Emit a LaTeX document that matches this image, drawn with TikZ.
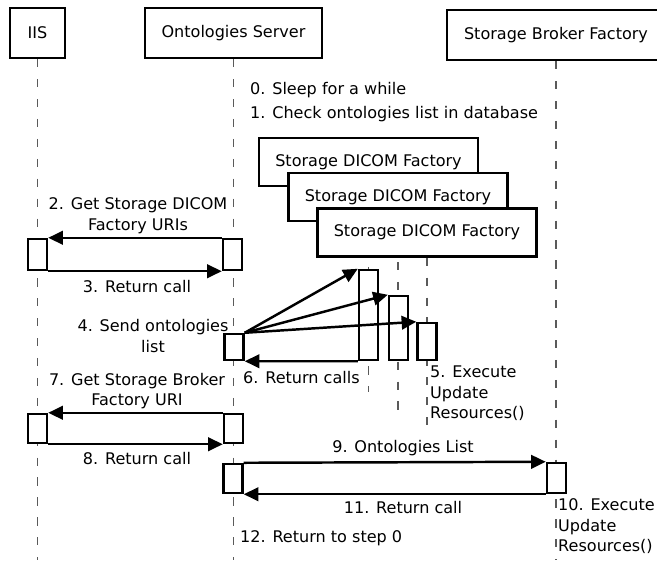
\documentclass[tikz,border=0pt]{standalone}
\usepackage{fontspec}
\setmainfont{DejaVu Sans}
\usetikzlibrary{
	positioning,
	arrows.meta
}
\definecolor{LifeGray}{RGB}{90,90,90}

\tikzset{
	actor/.style={draw, line width=2.1pt, fill=white, minimum height=1.5cm, inner sep=0pt},
	dicom/.style={draw, line width=2.1pt, fill=white, minimum width=6.57cm, minimum height=1.44cm, inner sep=0pt},
	lifeline/.style={draw=LifeGray, line width=1.4pt, dash pattern=on 7pt off 10pt},
	act/.style={draw, line width=2.1pt, fill=white, minimum width=0.57cm, inner sep=0pt},
	msg/.style={line width=2.1pt, -{Triangle[length=12.5pt,width=11.5pt]}},
	lbl/.style={inner sep=0pt, align=center},
	note/.style={inner sep=0pt, align=left, anchor=west}
}

\begin{document}
\begin{tikzpicture}[x=0.03cm, y=-0.03cm,
	every node/.style={font=\fontsize{13.7}{17.5}\selectfont}]

	\clip (0,0) rectangle (657,560);

	% participants
	\node[actor, minimum width=1.65cm] (IIS) at (37.5,33) {IIS};
	\node[actor, minimum width=5.31cm] (Server) at (233.5,33) {Ontologies Server};
	\node[actor, minimum width=6.54cm] (Broker) at (556,35) {Storage Broker Factory};

	\coordinate (IISend) at (37.5,560);
	\coordinate (Serverend) at (233.5,560);
	\coordinate (Brokerend) at (556,560);

	\draw[lifeline] (IIS.south) -- (IISend);
	\draw[lifeline] (Server.south) -- (Serverend);
	\draw[lifeline] (Broker.south) -- (Brokerend);

	% storage DICOM factories
	\node[dicom] (Dicom1) at (368.5,162) {Storage DICOM Factory};
	\coordinate (Dicom1end) at (368.5,392);
	\draw[lifeline] (Dicom1.south) -- (Dicom1end);
	\node[dicom] (Dicom2) at (398,197) {Storage DICOM Factory};
	\coordinate (Dicom2end) at (398,412);
	\draw[lifeline] (Dicom2.south) -- (Dicom2end);
	\node[dicom] (Dicom3) at (427,232.5) {Storage DICOM Factory};
	\coordinate (Dicom3end) at (427,428);
	\draw[lifeline] (Dicom3.south) -- (Dicom3end);

	% notes
	\node[note] (step0) at (250,90) {0. Sleep for a while};
	\node[note] (step1) at (250,114) {1. Check ontologies list in database};

	% steps 2 and 3
	\node[act, minimum height=0.93cm] (actIIS1) at (37.5,254.5) {};
	\node[act, minimum height=0.93cm] (actSrv1) at (232.5,254.5) {};
	\draw[msg] (actSrv1.north west) -- (actIIS1.north east);
	\draw[msg] (actIIS1.south east) -- (actSrv1.south west);
	\node[lbl] (lab2) at (138,215.5) {2. Get Storage DICOM\\Factory URIs};
	\node[lbl] (lab3) at (137,287) {3. Return call};

	% steps 4 to 6
	\node[act, minimum height=0.78cm] (actSrv2) at (234,347) {};
	\node[act, minimum height=2.7cm] (actDic1) at (368.5,315) {};
	\node[act, minimum height=1.92cm] (actDic2) at (398.5,328) {};
	\node[act, minimum height=1.11cm] (actDic3) at (427,341.5) {};
	\draw[msg] (actSrv2.north east) -- (actDic1.north west);
	\draw[msg] (actSrv2.north east) -- (actDic2.north west);
	\draw[msg] (actSrv2.north east) -- (actDic3.north west);
	\draw[msg] (actDic1.south west) -- (actSrv2.south east);
	\node[lbl] (lab4) at (153,336) {4. Send ontologies\\list};
	\node[note] (lab5) at (430,393.5) {5. Execute\\Update\\Resources()};
	\node[note] (lab6) at (243,378) {6. Return calls};

	% steps 7 and 8
	\node[act, minimum height=0.87cm] (actIIS2) at (37.5,428.5) {};
	\node[act, minimum height=0.87cm] (actSrv3) at (233.5,428.5) {};
	\draw[msg] (actSrv3.north west) -- (actIIS2.north east);
	\draw[msg] (actIIS2.south east) -- (actSrv3.south west);
	\node[lbl] (lab7) at (137,391) {7. Get Storage Broker\\Factory URI};
	\node[lbl] (lab8) at (137,459) {8. Return call};

	% steps 9 to 12
	\node[act, minimum height=0.87cm] (actSrv4) at (233,478.5) {};
	\node[act, minimum height=0.9cm] (actBrk) at (556.5,478) {};
	\draw[msg] (actSrv4.north east) -- (actBrk.north west);
	\draw[msg] (actBrk.south west) -- (actSrv4.south east);
	\node[lbl] (lab9) at (403,448) {9. Ontologies List};
	\node[note] (lab10) at (558,526.5) {10. Execute\\Update\\Resources()};
	\node[lbl] (lab11) at (403,508) {11. Return call};
	\node[note] (lab12) at (240,538) {12. Return to step 0};

\end{tikzpicture}
\end{document}
